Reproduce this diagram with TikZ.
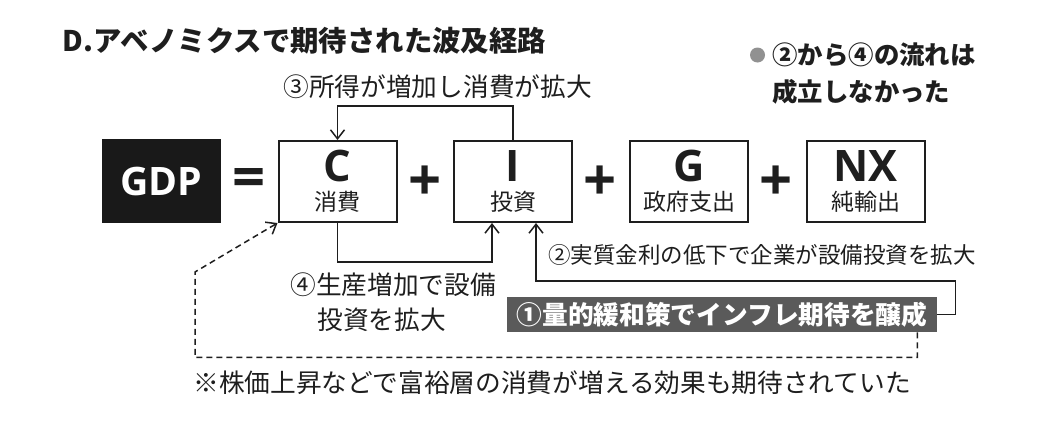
\documentclass[tikz,border=0pt]{standalone}
\usepackage{fontspec}
\setmainfont{Noto Sans CJK JP}
\newfontfamily\latinfont{Open Sans}
\usetikzlibrary{calc, positioning, arrows.meta}
\definecolor{inkgray}{RGB}{30,30,30}
\definecolor{bannergray}{RGB}{90,90,90}
\definecolor{dotgray}{RGB}{145,145,145}

\begin{document}
\begin{tikzpicture}[
  x=0.5pt, y=-0.5pt,
  termbox/.style={draw=inkgray, line width=1pt, minimum width=59pt,
    minimum height=40.5pt, inner sep=0pt},
  letter/.style={font=\latinfont\bfseries\fontsize{21.7}{24}\selectfont,
    text=inkgray, inner sep=0pt},
  sublabel/.style={font=\fontsize{11.5}{13}\selectfont, text=inkgray, inner sep=0pt},
  opsign/.style={font=\latinfont\bfseries\fontsize{29}{30}\selectfont,
    text=inkgray, inner sep=0pt},
  note/.style={font=\fontsize{12.85}{17.5}\selectfont, text=inkgray,
    inner sep=0pt, anchor=west},
  flow/.style={draw=inkgray, line width=0.75pt, -{Straight Barb[length=4.5pt, width=7pt]}},
  hope/.style={draw=inkgray, line width=0.75pt, dash pattern=on 3pt off 2pt,
    -{Straight Barb[length=4.5pt, width=7pt]}},
]
  \useasboundingbox (0,0) rectangle (1040,429);

  \node[font=\bfseries\fontsize{14.2}{16}\selectfont, text=inkgray, inner sep=0pt, anchor=west]
    (title) at (62,41) {D.アベノミクスで期待された波及経路};
  \node[circle, fill=dotgray, minimum size=7.5pt, inner sep=0pt] (dot) at (757.5,55) {};
  \node[font=\bfseries\fontsize{12.7}{18.5}\selectfont, text=inkgray, inner sep=0pt,
    align=left, anchor=west] (verdict) at (772,73.5) {②から④の流れは\\成立しなかった};

  % GDP = C + I + G + NX
  \node[fill=black!90, minimum width=59.5pt, minimum height=42pt, inner sep=0pt,
    text=white, font=\latinfont\bfseries\fontsize{19.6}{22}\selectfont] (gdp) at (161.5,181) {GDP};
  \node[opsign] (eq) at (249,183) {=};
  \node[termbox] (C) at (337.5,181.5) {};
  \node[letter] at (337.5,166) {C};
  \node[sublabel] at (337.5,202) {消費};
  \node[opsign] (p1) at (425,183) {+};
  \node[termbox] (I) at (513,181.5) {};
  \node[letter] at (513,166) {I};
  \node[sublabel] at (513,202) {投資};
  \node[opsign] (p2) at (600.5,183) {+};
  \node[termbox] (G) at (689,181.5) {};
  \node[letter] at (689,166) {G};
  \node[sublabel] at (689,202) {政府支出};
  \node[opsign] (p3) at (776.5,183) {+};
  \node[termbox] (NX) at (865.5,181.5) {};
  \node[letter] at (865.5,166) {NX};
  \node[sublabel] at (865.5,202) {純輸出};

  % channels
  \node[fill=bannergray, minimum width=215pt, minimum height=17.5pt, inner sep=0pt,
    text=white, font=\bfseries\fontsize{12.85}{15}\selectfont] (QE) at (722,314.5)
    {①量的緩和策でインフレ期待を醸成};
  \node[note] (lab3) at (283,87) {③所得が増加し消費が拡大};
  \node[note, align=left] (lab4) at (290,302.5) {④生産増加で設備\\\hspace{13.5pt}投資を拡大};
  \node[note, font=\fontsize{11.25}{14}\selectfont] (lab2) at (548,255)
    {②実質金利の低下で企業が設備投資を拡大};
  \node[note] (foot) at (193,383) {※株価上昇などで富裕層の消費が増える効果も期待されていた};

  \draw[flow] (I.north) -- ++(0,-34) -| (C.north);
  \draw[flow] (C.south) -- ++(0,39) -| ([shift={(-21,0)}]I.south);
  \coordinate (bend2) at ([shift={(23,58)}]I.south);
  \draw[flow] (QE.east) -- ++(18,0) |- (bend2) -- ([shift={(23,0)}]I.south);
  \draw[hope] ([shift={(-20,0)}]QE.south east) -- ++(0,25) -| (195,272) -- (C.south west);
\end{tikzpicture}
\end{document}
